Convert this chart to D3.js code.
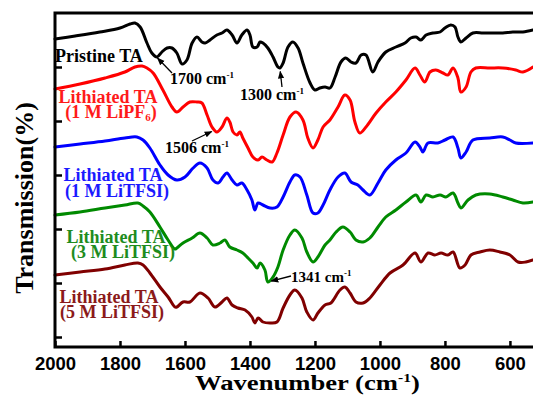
<!DOCTYPE html>
<html>
<head>
<meta charset="utf-8">
<script src="https://cdn.jsdelivr.net/npm/d3@7"></script>
<style>
  html, body { margin: 0; padding: 0; background: #fff; }
  svg { display: block; }
  text { font-family: "Liberation Serif", "Times New Roman", serif; font-weight: bold; }
</style>
</head>
<body>
<div id="chart"></div>
<script>
// ---- data: [wavenumber (cm^-1), transmission (a.u., offset-stacked)] ----
const pristineTA = [
  [2000,308],[1938,311],[1862,315],[1800,319],[1769,323],[1754,324],[1738,320],[1717,304],
  [1702,294],[1686,290],[1671,295],[1655,299],[1640,299],[1625,294],[1609,283],[1594,287],
  [1578,304],[1563,310],[1548,305],[1538,304],[1523,307],[1502,312],[1486,314],[1471,317],
  [1455,312],[1440,304],[1425,312],[1409,317],[1400,312],[1391,300],[1378,300],[1369,305],
  [1360,304],[1345,299],[1329,290],[1314,280],[1308,279],[1298,284],[1283,300],[1268,305],
  [1252,299],[1237,284],[1215,264],[1200,257],[1185,259],[1169,260],[1154,259],[1138,270],
  [1120,285],[1105,289],[1089,285],[1074,284],[1058,292],[1043,292],[1022,275],[1006,285],
  [982,295],[951,300],[923,304],[905,309],[889,310],[874,307],[858,312],[837,314],[815,315],
  [800,319],[782,322],[769,320],[760,310],[751,305],[735,309],[714,314],[683,314],[652,314],
  [622,314],[591,315],[560,315],[529,317]
];
const lipf6_1M = [
  [2000,258],[1923,263],[1846,269],[1785,275],[1754,280],[1732,281],[1717,279],[1698,274],
  [1668,257],[1640,240],[1625,235],[1606,240],[1585,245],[1563,245],[1548,244],[1532,232],
  [1517,220],[1502,215],[1486,220],[1471,229],[1462,225],[1452,215],[1440,212],[1431,215],
  [1422,209],[1406,199],[1391,190],[1375,187],[1363,190],[1348,187],[1332,185],[1317,194],
  [1298,212],[1277,230],[1258,235],[1237,227],[1222,209],[1206,199],[1191,207],[1175,220],
  [1154,227],[1129,240],[1108,252],[1092,247],[1077,225],[1062,214],[1043,220],[1012,234],
  [982,245],[951,255],[920,267],[892,279],[877,272],[862,265],[846,275],[828,277],[806,274],
  [791,272],[775,279],[760,269],[751,255],[735,260],[720,275],[705,279],[662,279],[622,279],
  [582,277],[560,275],[529,280]
];
const litfsi_1M = [
  [2000,200],[1923,203],[1846,206],[1785,209],[1748,210],[1729,207],[1708,199],[1677,182],
  [1652,172],[1625,167],[1600,170],[1575,179],[1554,184],[1532,179],[1514,167],[1498,164],
  [1483,170],[1471,174],[1455,167],[1440,162],[1425,164],[1409,157],[1394,147],[1385,137],
  [1375,144],[1360,142],[1338,139],[1317,140],[1298,150],[1277,165],[1262,172],[1246,170],
  [1225,152],[1206,134],[1191,134],[1175,142],[1154,157],[1129,170],[1108,174],[1089,165],
  [1068,162],[1052,157],[1031,152],[1006,164],[982,177],[951,187],[920,194],[892,205],
  [877,200],[868,195],[852,204],[822,204],[800,207],[775,210],[760,199],[751,189],[735,195],
  [714,207],[662,209],[622,210],[600,207],[582,204],[529,204]
];
const litfsi_3M = [
  [2000,132],[1923,135],[1846,139],[1785,142],[1745,144],[1729,141],[1708,135],[1677,120],
  [1652,107],[1631,98],[1625,99],[1606,104],[1578,109],[1554,114],[1532,109],[1514,102],
  [1492,104],[1477,107],[1462,100],[1440,97],[1422,94],[1406,89],[1391,84],[1378,79],
  [1369,84],[1354,77],[1345,65],[1329,70],[1314,80],[1298,97],[1277,112],[1262,117],
  [1240,109],[1225,95],[1206,85],[1191,90],[1169,102],[1154,107],[1135,115],[1114,120],
  [1092,115],[1074,107],[1052,105],[1031,109],[1006,120],[982,130],[951,137],[920,145],
  [889,152],[874,145],[858,152],[837,150],[815,152],[797,150],[775,154],[760,144],[751,139],
  [729,147],[705,152],[662,153],[622,150],[591,147],[560,144],[529,145]
];
const litfsi_5M = [
  [2000,72],[1923,75],[1846,78],[1785,82],[1745,84],[1729,82],[1708,74],[1677,60],
  [1652,50],[1631,40],[1625,40],[1606,45],[1585,45],[1554,54],[1529,49],[1508,40],
  [1486,45],[1471,49],[1455,42],[1437,39],[1415,37],[1394,30],[1385,24],[1375,29],
  [1360,25],[1338,24],[1317,25],[1298,39],[1277,52],[1262,57],[1240,49],[1225,35],
  [1206,27],[1191,34],[1169,42],[1151,44],[1123,57],[1108,60],[1092,54],[1074,45],
  [1052,44],[1031,49],[1000,62],[969,74],[929,82],[892,94],[874,85],[852,94],[831,92],
  [812,94],[791,92],[775,95],[754,79],[738,82],[720,92],[692,95],[662,97],[631,95],
  [600,92],[575,85],[551,85],[529,87]
];

const seriesNames  = ["Pristine TA", "Lithiated TA (1 M LiPF6)", "Lithiated TA (1 M LiTFSI)",
                      "Lithiated TA (3 M LiTFSI)", "Lithiated TA (5 M LiTFSI)"];
const seriesValues = [pristineTA, lipf6_1M, litfsi_1M, litfsi_3M, litfsi_5M];
const seriesColors = ["#000000", "#ff0000", "#0000ff", "#008a00", "#800000"];
const labelColors  = ["#000000", "#ff1a1a", "#1a1aff", "#1e8c1e", "#8b1a1a"];

const xTicks = [2000, 1800, 1600, 1400, 1200, 1000, 800, 600];
const yTicks = [10, 64, 118, 172, 226, 280];

// label lines: [series index, line1, line2 (, subscript, tail)]
const seriesLabels = [
  [0, "Pristine TA", null],
  [1, "Lithiated TA", "(1 M LiPF", "6", ")"],
  [2, "Lithiated TA", "(1 M LiTFSI)"],
  [3, "Lithiated TA", "(3 M LiTFSI)"],
  [4, "Lithiated TA", "(5 M LiTFSI)"]
];
// peak annotations
const peakLabels = ["1700", "1300", "1506", "1341"];
const peakSeries = [0, 0, 1, 3];
const peakWave   = [1692, 1308, 1508, 1345];

// ---- layout ----
const W = 533, H = 399;
const svg = d3.select("#chart").append("svg").attr("width", W).attr("height", H);

const x = d3.scaleLinear().domain([2000, 529]).range([55, 533]);
const y = d3.scaleLinear().domain([0, 334]).range([347, 13]);

svg.append("defs").append("marker")
  .attr("id", "ah").attr("viewBox", "0 0 10 10").attr("refX", 9).attr("refY", 5)
  .attr("markerWidth", 6).attr("markerHeight", 6).attr("orient", "auto-start-reverse")
  .append("path").attr("d", "M0,1 L10,5 L0,9 z").attr("fill", "#000");

// curves
const line = d3.line().x(d => x(d[0])).y(d => y(d[1])).curve(d3.curveCatmullRom.alpha(0.5));
seriesValues.forEach((s, i) => {
  svg.append("path").datum(s).attr("d", line)
    .attr("fill", "none").attr("stroke", seriesColors[i]).attr("stroke-width", 3)
    .attr("stroke-linejoin", "round").attr("stroke-linecap", "round");
});

// frame
svg.append("path")
  .attr("d", `M${W + 5},${y(334)} H${x(2000)} V${y(0)} H${W + 5}`)
  .attr("fill", "none").attr("stroke", "#000").attr("stroke-width", 3);

// x axis (ticks inward, labels below)
const xAxis = d3.axisBottom(x).tickValues(xTicks).tickFormat(d3.format("d"))
  .tickSizeInner(-6).tickSizeOuter(0).tickPadding(10);
const gx = svg.append("g").attr("transform", `translate(0,${y(0)})`).call(xAxis);
gx.select(".domain").remove();
gx.selectAll(".tick line").attr("stroke", "#000").attr("stroke-width", 2.5);
gx.selectAll(".tick text")
  .style("font-family", "'Liberation Sans', Arial, sans-serif").style("font-weight", "bold")
  .style("font-size", "18.5px").attr("fill", "#000");

// y axis (ticks inward, no labels)
const yAxis = d3.axisLeft(y).tickValues(yTicks).tickSizeInner(-7).tickSizeOuter(0).tickFormat("");
const gy = svg.append("g").attr("transform", `translate(${x(2000)},0)`).call(yAxis);
gy.select(".domain").remove();
gy.selectAll(".tick line").attr("stroke", "#000").attr("stroke-width", 2.5);

// axis titles
const xt = svg.append("text").attr("transform", "translate(195,390) scale(1.3,1)")
  .style("font-size", "20.5px").attr("fill", "#000");
xt.append("tspan").text("Wavenumber (cm");
xt.append("tspan").attr("dy", -8).style("font-size", "12px").text("-1");
xt.append("tspan").attr("dy", 8).text(")");

svg.append("text").attr("transform", "translate(33,198) rotate(-90)").attr("text-anchor", "middle")
  .style("font-size", "26px").attr("fill", "#000").text("Transmission(%)");

// series labels
const labelPos = [[55, 62, 55, null], [108, 103, 111, 118], [113, 181, 117, 197], [116, 243, 123, 258], [109, 303, 112, 318]];
seriesLabels.forEach((lab, k) => {
  const i = lab[0], p = labelPos[k];
  if (k === 0) {
    svg.append("text").attr("x", p[0]).attr("y", p[1]).style("font-size", "18px")
      .attr("fill", labelColors[i]).text(lab[1]);
    return;
  }
  svg.append("text").attr("x", p[0]).attr("y", p[1]).attr("text-anchor", "middle")
    .style("font-size", "18px").attr("fill", labelColors[i]).text(lab[1]);
  const t2 = svg.append("text").attr("x", p[2]).attr("y", p[3]).attr("text-anchor", "middle")
    .style("font-size", "18px").attr("fill", labelColors[i]);
  t2.append("tspan").text(lab[2]);
  if (lab[3]) {
    t2.append("tspan").attr("dy", 3).style("font-size", "11px").text(lab[3]);
    t2.append("tspan").attr("dy", -3).text(lab[4]);
  }
});

// peak annotations: text position and arrow tail
const peakTextPos = [[170, 84, 16], [240, 100, 16], [165, 153, 16], [291, 282, 15]];
const peakArrowTail = [[172, 73], [282, 87], [192, 141], [291, 276]];
function valueAt(s, w) {
  for (let j = 0; j < s.length - 1; j++) {
    const a = s[j], b = s[j + 1];
    if (w <= a[0] && w >= b[0]) return a[1] + (b[1] - a[1]) * (a[0] - w) / (a[0] - b[0]);
  }
  return s[0][1];
}
peakLabels.forEach((lab, k) => {
  const s = seriesValues[peakSeries[k]];
  const px = x(peakWave[k]), py = y(valueAt(s, peakWave[k]));
  const tail = peakArrowTail[k];
  const dx = px - tail[0], dyv = py - tail[1], len = Math.hypot(dx, dyv);
  const gap = 3.5;
  svg.append("line").attr("x1", tail[0]).attr("y1", tail[1])
    .attr("x2", px - dx / len * gap).attr("y2", py - dyv / len * gap)
    .attr("stroke", "#000").attr("stroke-width", 1.3).attr("marker-end", "url(#ah)");
  const tp = peakTextPos[k];
  const t = svg.append("text").attr("x", tp[0]).attr("y", tp[1]).style("font-size", tp[2] + "px").attr("fill", "#000");
  t.append("tspan").text(lab + " cm");
  t.append("tspan").attr("dy", -6).style("font-size", "9px").text("-1");
});
</script>
</body>
</html>
